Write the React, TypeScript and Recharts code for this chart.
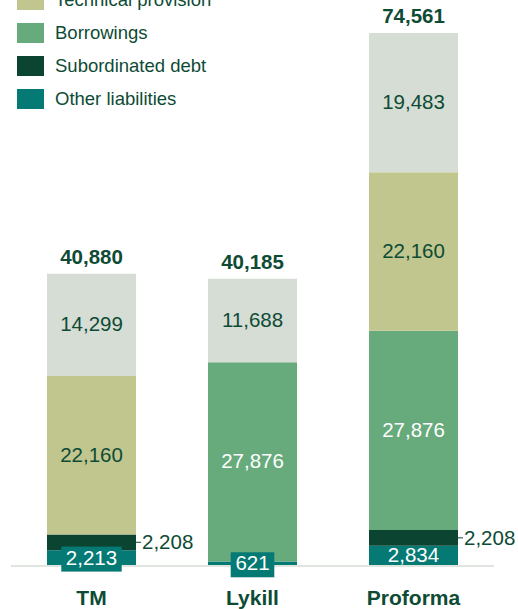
import React from "react";
import { BarChart, Bar, XAxis, YAxis, LabelList } from "recharts";

const categories = ["TM", "Lykill", "Proforma"];
const otherLiabilities = [2213, 621, 2834];
const subordinatedDebt = [2208, 0, 2208];
const borrowings = [0, 27876, 27876];
const technicalProvision = [22160, 0, 22160];
const equity = [14299, 11688, 19483];

const FONT = '"Liberation Sans", Arial, sans-serif';
const TEXT = "#0e4b35";

const series = [
  { key: "equity", name: "Equity", color: "#d6ddd5", label: TEXT },
  { key: "tech", name: "Technical provision", color: "#c0c68e", label: TEXT },
  { key: "borrow", name: "Borrowings", color: "#67aa7c", label: "#ffffff" },
  { key: "sub", name: "Subordinated debt", color: "#0b4430", label: TEXT },
  { key: "other", name: "Other liabilities", color: "#057a75", label: "#ffffff" },
];

const data = categories.map((c, i) => ({
  name: c,
  other: otherLiabilities[i],
  sub: subordinatedDebt[i],
  borrow: borrowings[i],
  tech: technicalProvision[i],
  equity: equity[i],
  total:
    otherLiabilities[i] +
    subordinatedDebt[i] +
    borrowings[i] +
    technicalProvision[i] +
    equity[i],
}));

const fmt = (v: number) => v.toLocaleString("en-US");
const LABEL_SIZE = 20.5;

function InsideLabel(fill: string) {
  return (props: any) => {
    const { x, y, width, height, value } = props;
    if (!value) return null;
    return (
      <text
        x={x + width / 2}
        y={y + height / 2 + 1}
        textAnchor="middle"
        dominantBaseline="middle"
        fill={fill}
        fontSize={LABEL_SIZE}
        fontFamily={FONT}
      >
        {fmt(value)}
      </text>
    );
  };
}

function OtherLabel(props: any) {
  const { x, y, width, height, value } = props;
  if (!value) return null;
  const s = fmt(value);
  const commas = s.split(",").length - 1;
  const w = (s.length - commas) * 11.2 + commas * 5.6 + 10;
  const cy = y + height / 2 + 1;
  const cx = x + width / 2;
  return (
    <g>
      {height < 18 && (
        <rect x={cx - w / 2} y={cy - 12.5} width={w} height={25} fill="#057a75" />
      )}
      <text
        x={cx}
        y={cy}
        textAnchor="middle"
        dominantBaseline="middle"
        fill="#ffffff"
        fontSize={LABEL_SIZE}
        fontFamily={FONT}
      >
        {s}
      </text>
    </g>
  );
}

function SideLabel(props: any) {
  const { x, y, width, height, value } = props;
  if (!value) return null;
  const cy = y + height / 2;
  const x0 = x + width;
  return (
    <g>
      <line x1={x0} y1={cy} x2={x0 + 5} y2={cy} stroke={TEXT} strokeWidth={1} />
      <text
        x={x0 + 6}
        y={cy + 1.5}
        dominantBaseline="middle"
        fill={TEXT}
        fontSize={LABEL_SIZE}
        fontFamily={FONT}
      >
        {fmt(value)}
      </text>
    </g>
  );
}

function TotalLabel(props: any) {
  const { x, y, width, value } = props;
  return (
    <text
      x={x + width / 2}
      y={y - 10}
      textAnchor="middle"
      fill={TEXT}
      fontSize={20.5}
      fontWeight="bold"
      fontFamily={FONT}
    >
      {fmt(value)}
    </text>
  );
}

function CategoryTick({ x, y, payload }: any) {
  return (
    <text
      x={x}
      y={y + 31}
      textAnchor="middle"
      fill={TEXT}
      fontSize={21}
      fontWeight="bold"
      fontFamily={FONT}
    >
      {payload.value}
    </text>
  );
}

export default function App() {
  const stackOrder = [...series].reverse();
  return (
    <div style={{ position: "absolute", top: 0, left: 0, width: 518, height: 609, background: "#fff", overflow: "hidden" }}>
      <BarChart
        width={518}
        height={609}
        data={data}
        margin={{ top: 33, right: 24, bottom: 0, left: 11 }}
        barSize={89}
      >
        <XAxis
          dataKey="name"
          height={43}
          tickLine={false}
          axisLine={{ stroke: "#e0e6df", strokeWidth: 2 }}
          tick={CategoryTick}
          interval={0}
        />
        <YAxis hide domain={[0, 74561]} />
        {stackOrder.map((s) => (
          <Bar
            key={s.key}
            dataKey={s.key}
            name={s.name}
            stackId="a"
            fill={s.color}
            isAnimationActive={false}
          >
            {s.key === "other" && <LabelList dataKey="other" content={OtherLabel} />}
            {s.key === "sub" && <LabelList dataKey="sub" content={SideLabel} />}
            {(s.key === "borrow" || s.key === "tech" || s.key === "equity") && (
              <LabelList dataKey={s.key} content={InsideLabel(s.label)} />
            )}
            {s.key === "equity" && <LabelList dataKey="total" content={TotalLabel} />}
          </Bar>
        ))}
      </BarChart>
      <div style={{ position: "absolute", top: -43, left: 17, fontFamily: FONT }}>
        {series.map((s) => (
          <div key={s.key} style={{ display: "flex", alignItems: "center", height: 20, marginBottom: 13 }}>
            <div style={{ width: 27, height: 20, background: s.color, marginRight: 11 }} />
            <span style={{ fontSize: 18.5, color: TEXT, lineHeight: "20px", whiteSpace: "nowrap" }}>
              {s.name}
            </span>
          </div>
        ))}
      </div>
    </div>
  );
}
